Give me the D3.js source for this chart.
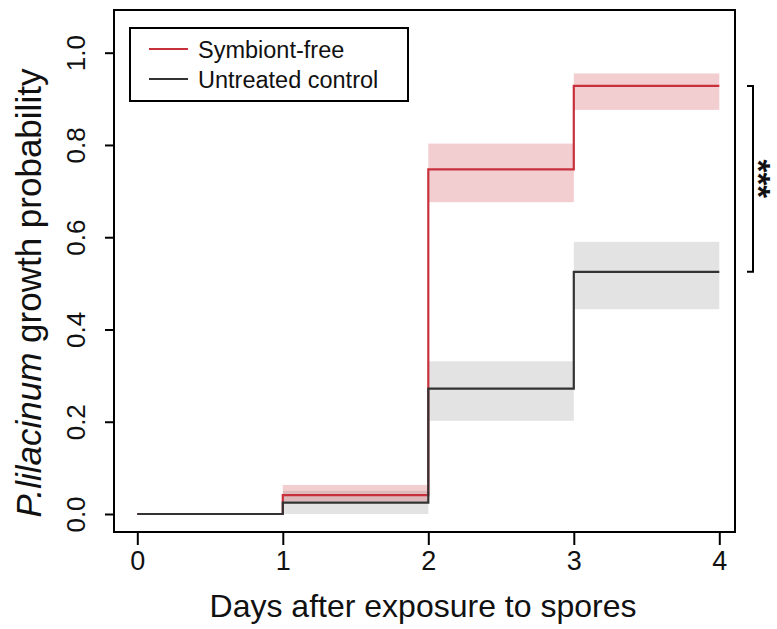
<!DOCTYPE html>
<html>
<head>
<meta charset="utf-8">
<script src="https://cdn.jsdelivr.net/npm/d3@7"></script>
<style>
  html, body { margin: 0; padding: 0; background: #fff; }
  svg { display: block; font-family: "Liberation Sans", Arial, sans-serif; }
</style>
</head>
<body>
<svg id="chart" width="777" height="629"></svg>
<script>
// Days after exposure (step boundaries)
const days = [0, 1, 2, 3, 4];
const xTicks = [0, 1, 2, 3, 4];
const yTicks = [0.0, 0.2, 0.4, 0.6, 0.8, 1.0];

// Growth probability on each interval [day i, day i+1)
const symbiontFree      = [0, 0.041, 0.747, 0.928];
const symbiontFreeLower = [0, 0.027, 0.676, 0.876];
const symbiontFreeUpper = [0, 0.063, 0.803, 0.955];

const control      = [0, 0.0245, 0.272, 0.525];
const controlLower = [0, 0.000, 0.202, 0.444];
const controlUpper = [0, 0.050, 0.331, 0.590];

const seriesNames = ["Symbiont-free", "Untreated control"];
const significance = "***";

const svg = d3.select("#chart");
const box = { left: 114, right: 735, top: 10, bottom: 532 };

const x = d3.scaleLinear().domain([0, 4]).range([137.3, 719.3]);
const y = d3.scaleLinear().domain([0, 1]).range([514, 52.7]);

const red = "#c8313c";
const dark = "#333333";
const font = "Liberation Sans, Arial, sans-serif";

// confidence bands
function bands(lower, upper, fill, opacity) {
  const rows = lower.map((lo, i) => ({ x0: days[i], x1: days[i + 1], lo, hi: upper[i] }))
    .filter(d => d.hi > d.lo);
  svg.append("g").selectAll("rect").data(rows).join("rect")
    .attr("x", d => x(d.x0))
    .attr("width", d => x(d.x1) - x(d.x0))
    .attr("y", d => y(d.hi))
    .attr("height", d => y(d.lo) - y(d.hi))
    .attr("fill", fill)
    .attr("fill-opacity", opacity);
}
bands(controlLower, controlUpper, "#e3e3e3", 1);
bands(symbiontFreeLower, symbiontFreeUpper, "#d2404f", 0.26);

// step curves
const step = d3.line().x(d => x(d[0])).y(d => y(d[1])).curve(d3.curveStepAfter);
function stepPoints(vals) {
  const pts = vals.map((v, i) => [days[i], v]);
  pts.push([days[days.length - 1], vals[vals.length - 1]]);
  return pts;
}
svg.append("path").datum(stepPoints(symbiontFree))
  .attr("d", step).attr("fill", "none").attr("stroke", red).attr("stroke-width", 2.2);
svg.append("path").datum(stepPoints(control))
  .attr("d", step).attr("fill", "none").attr("stroke", dark).attr("stroke-width", 2.2);

// plot frame
svg.append("rect")
  .attr("x", box.left).attr("y", box.top)
  .attr("width", box.right - box.left).attr("height", box.bottom - box.top)
  .attr("fill", "none").attr("stroke", "#000").attr("stroke-width", 2);

// x axis
const xAxis = svg.append("g").attr("transform", `translate(0,${box.bottom})`)
  .call(d3.axisBottom(x).tickValues(xTicks).tickFormat(d3.format("d")).tickSize(13).tickPadding(6));
xAxis.select(".domain").remove();
xAxis.selectAll(".tick line").attr("stroke", "#000").attr("stroke-width", 2);
xAxis.selectAll(".tick text").attr("font-size", 27).attr("fill", "#111")
  .attr("font-family", font);

// y axis with rotated labels
const yAxis = svg.append("g").attr("transform", `translate(${box.left},0)`)
  .call(d3.axisLeft(y).tickValues(yTicks).tickFormat(d3.format(".1f")).tickSize(9));
yAxis.select(".domain").remove();
yAxis.selectAll(".tick line").attr("stroke", "#000").attr("stroke-width", 2);
yAxis.selectAll(".tick text")
  .attr("x", null).attr("dy", null)
  .attr("transform", "translate(-29,0) rotate(-90)")
  .attr("text-anchor", "middle")
  .attr("font-size", 26).attr("fill", "#111")
  .attr("font-family", font);

// axis titles
svg.append("text")
  .attr("x", 423).attr("y", 617)
  .attr("text-anchor", "middle").attr("font-size", 32).attr("fill", "#111")
  .text("Days after exposure to spores");

const yTitle = svg.append("text")
  .attr("transform", `translate(41,293) rotate(-90)`)
  .attr("text-anchor", "middle").attr("font-size", 35).attr("fill", "#111");
yTitle.append("tspan").attr("font-style", "italic").text("P.lilacinum");
yTitle.append("tspan").text(" growth probability");

// legend
const legend = svg.append("g");
legend.append("rect")
  .attr("x", 130).attr("y", 28).attr("width", 278).attr("height", 73)
  .attr("fill", "#fff").attr("stroke", "#000").attr("stroke-width", 2);
const legendRows = legend.selectAll("g.row").data(seriesNames).join("g")
  .attr("class", "row")
  .attr("transform", (d, i) => `translate(0,${49 + i * 30})`);
legendRows.append("line")
  .attr("x1", 149).attr("x2", 188).attr("y1", 0).attr("y2", 0)
  .attr("stroke", (d, i) => i === 0 ? red : dark).attr("stroke-width", 2.2);
legendRows.append("text")
  .attr("x", 198).attr("y", 8.5).attr("font-size", 23.5).attr("fill", "#111")
  .text(d => d);

// significance bracket and stars (turned so the glyphs sit at the right of the line box)
const yA = y(symbiontFree[3]), yB = y(control[3]);
svg.append("path")
  .attr("d", `M747,${yA}H753V${yB}H747`)
  .attr("fill", "none").attr("stroke", "#000").attr("stroke-width", 2);
svg.append("text")
  .attr("transform", `translate(746.5,${(yA + yB) / 2}) rotate(90)`)
  .attr("text-anchor", "middle").attr("font-size", 33).attr("font-weight", "bold")
  .attr("fill", "#111")
  .text(significance);
</script>
</body>
</html>
